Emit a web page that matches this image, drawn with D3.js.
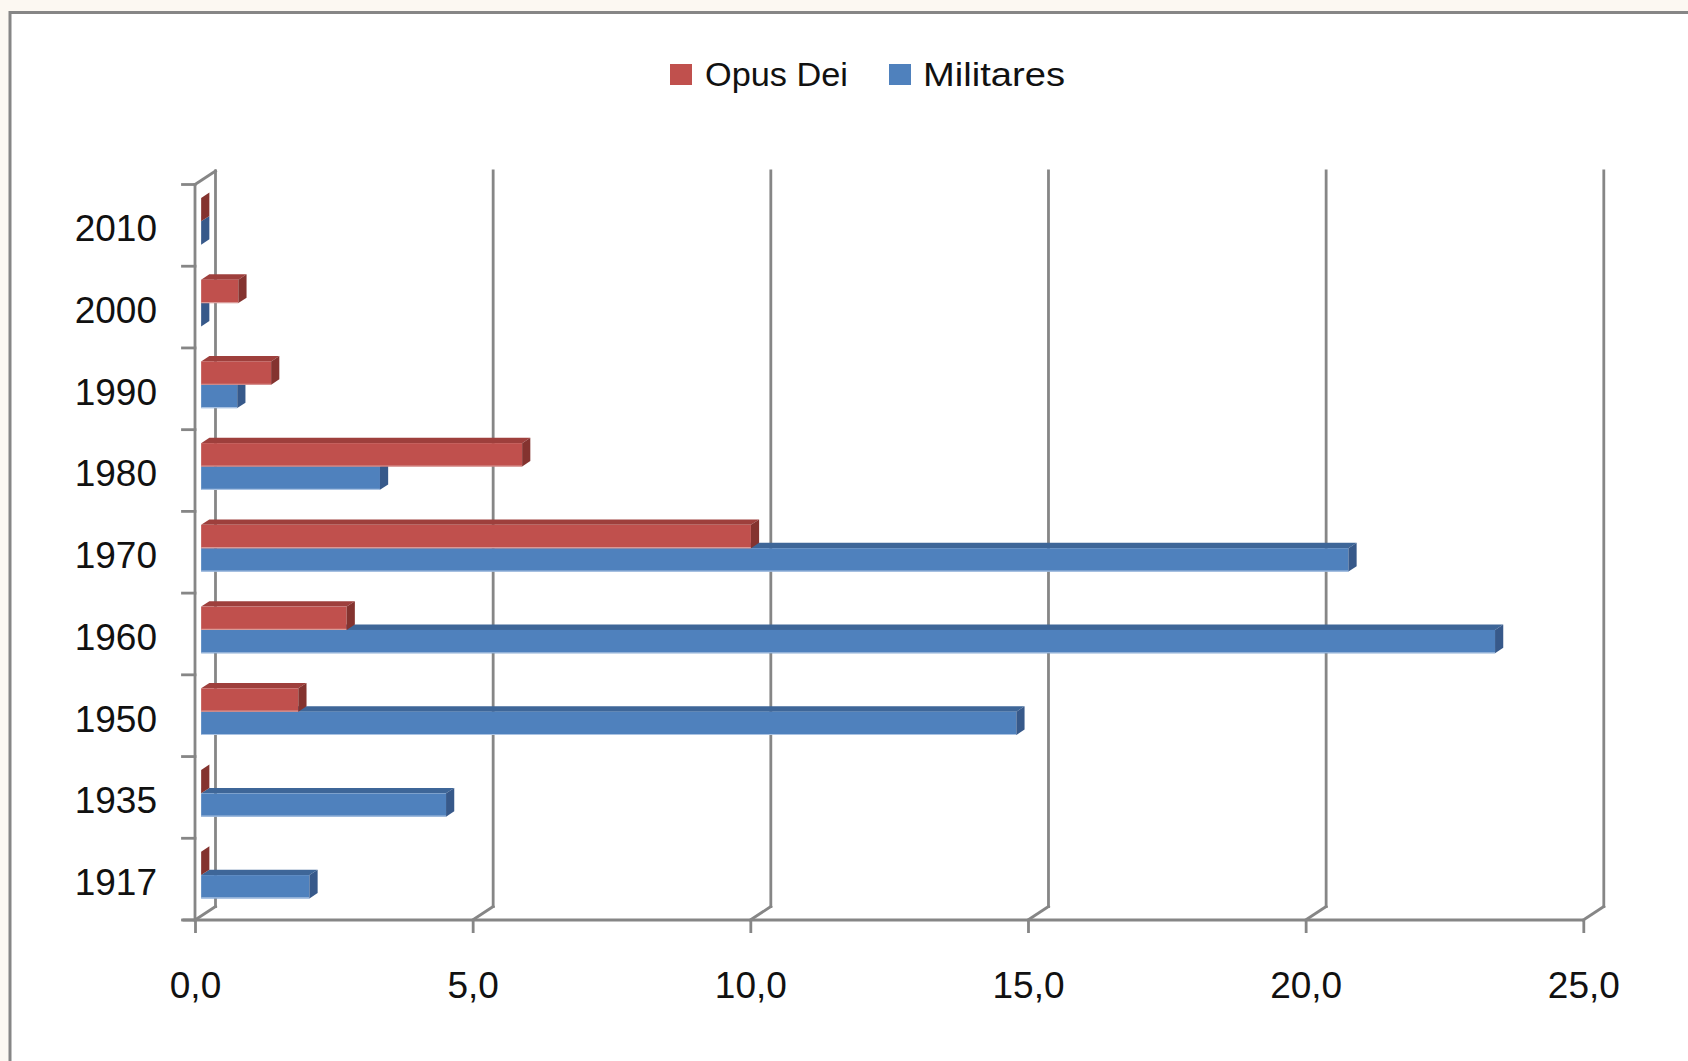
<!DOCTYPE html>
<html>
<head>
<meta charset="utf-8">
<script src="https://cdn.jsdelivr.net/npm/d3@7"></script>
<style>
  html, body { margin: 0; padding: 0; background: #fcf8f2; }
  svg { display: block; }
</style>
</head>
<body>
<svg id="chart" width="1688" height="1061"></svg>
<script>
// ---------- data ----------
const categories = ["1917", "1935", "1950", "1960", "1970", "1980", "1990", "2000", "2010"];
const seriesNames = ["Opus Dei", "Militares"];
const opusDei   = [0, 0, 1.75, 2.62, 9.9, 5.78, 1.26, 0.67, 0];
const militares = [1.95, 4.41, 14.68, 23.3, 20.66, 3.22, 0.65, 0, 0];
const xTickValues = [0, 5, 10, 15, 20, 25];

// ---------- styles / layout ----------
const palette = {
  "Opus Dei":  { front: "#C0504D", top: "#9E3F3C", side: "#84332F", edge: "#d99a98" },
  "Militares": { front: "#4F81BD", top: "#3E6698", side: "#37598A", edge: "#a9c2e2" }
};
const gridColor = "#868686";
const fontFamily = "'Liberation Sans', Arial, sans-serif";

const svg = d3.select("#chart");

// chart frame (extends past right and bottom edges)
svg.append("rect")
  .attr("x", 10).attr("y", 12.5)
  .attr("width", 1720).attr("height", 1100)
  .attr("fill", "#ffffff")
  .attr("stroke", "#868686").attr("stroke-width", 3);

// plot geometry (front plane) and depth offset
const x0 = 195, x1 = 1583.3, yTop = 184.5, yBot = 920;
const DX = 20.5, DY = -13.5;
const f0 = 0.3, f1 = 0.7; // bar depth position (fraction of total depth)

const x = d3.scaleLinear().domain([0, 25]).range([x0, x1]);
const y = d3.scaleBand().domain(categories.slice().reverse()).range([yTop, yBot]).paddingInner(0);
const ySub = d3.scaleBand().domain(seriesNames).range([0, y.bandwidth()]).paddingInner(0).paddingOuter(0.75);

const grid = svg.append("g")
  .attr("stroke", gridColor).attr("stroke-width", 2.8).attr("fill", "none")
  .attr("stroke-linecap", "square");

// back wall gridlines
xTickValues.forEach(t => {
  grid.append("line")
    .attr("x1", x(t) + DX).attr("y1", yTop + DY)
    .attr("x2", x(t) + DX).attr("y2", yBot + DY);
  // floor diagonals
  grid.append("line")
    .attr("x1", x(t)).attr("y1", yBot)
    .attr("x2", x(t) + DX).attr("y2", yBot + DY);
});
// left wall: front vertical and top diagonal
grid.append("line").attr("x1", x0).attr("y1", yTop).attr("x2", x0).attr("y2", yBot);
grid.append("line").attr("x1", x0).attr("y1", yTop).attr("x2", x0 + DX).attr("y2", yTop + DY);

// category boundary ticks on the left
const boundaries = categories.slice().reverse().map(c => y(c)).concat([yBot]);
boundaries.forEach(b => {
  grid.append("line").attr("x1", x0 - 12.5).attr("y1", b).attr("x2", x0).attr("y2", b);
});

// x axis (front floor edge)
const xAxis = d3.axisBottom(x)
  .tickValues(xTickValues)
  .tickSize(13)
  .tickSizeOuter(0)
  .tickFormat(d => d3.format(".1f")(d).replace(".", ","));
const gx = svg.append("g").attr("transform", `translate(0,${yBot})`).call(xAxis);
gx.select(".domain").attr("stroke", gridColor).attr("stroke-width", 2.8)
  .attr("d", `M${x0 - 12.5},0H${x1}`);
gx.selectAll(".tick line").attr("stroke", gridColor).attr("stroke-width", 2.8);
gx.selectAll(".tick text")
  .attr("y", 78).attr("dy", 0)
  .attr("fill", "#111")
  .style("font-family", fontFamily).style("font-size", "37px");

// y axis labels
const yAxis = d3.axisLeft(y).tickSize(0).tickPadding(38);
const gy = svg.append("g").attr("transform", `translate(${x0},0)`).call(yAxis);
gy.select(".domain").remove();
gy.selectAll(".tick text")
  .attr("dy", "0.43em")
  .attr("fill", "#111")
  .style("font-family", fontFamily).style("font-size", "37px");

// ---------- 3D bars ----------
const rows = categories.map((c, i) => ({ cat: c, "Opus Dei": opusDei[i], "Militares": militares[i] }));
const ox = f0 * DX, oy = f0 * DY;
const bx = (f1 - f0) * DX, by = (f1 - f0) * DY;
const bh = ySub.bandwidth();

const barsG = svg.append("g");
// draw from bottom category upward, lower series first
rows.forEach(r => {
  ["Militares", "Opus Dei"].forEach(s => {
    const v = r[s];
    const col = palette[s];
    const xl = x(0) + ox, xr = x(v) + ox;
    const yt = y(r.cat) + ySub(s) + oy, yb = yt + bh;
    const g = barsG.append("g");
    // top face
    g.append("polygon")
      .attr("points", [[xl, yt], [xr, yt], [xr + bx, yt + by], [xl + bx, yt + by]].map(p => p.join(",")).join(" "))
      .attr("fill", col.top);
    // front face
    g.append("rect")
      .attr("x", xl).attr("y", yt)
      .attr("width", Math.max(0, xr - xl)).attr("height", bh)
      .attr("fill", col.front);
    if (xr - xl > 1) {
      g.append("line")
        .attr("x1", xl).attr("x2", xr).attr("y1", yb - 0.5).attr("y2", yb - 0.5)
        .attr("stroke", col.edge).attr("stroke-width", 1.2);
    }
    // right side face
    g.append("polygon")
      .attr("points", [[xr, yt], [xr + bx, yt + by], [xr + bx, yb + by], [xr, yb]].map(p => p.join(",")).join(" "))
      .attr("fill", col.side);
  });
});

// ---------- legend ----------
const legend = svg.append("g").style("font-family", fontFamily).style("font-size", "34px");
const legendItems = [
  { name: "Opus Dei", sx: 670, tx: 705, len: 143 },
  { name: "Militares", sx: 889, tx: 923, len: 142 }
];
legendItems.forEach(it => {
  legend.append("rect")
    .attr("x", it.sx).attr("y", 64).attr("width", 22).attr("height", 21)
    .attr("fill", palette[it.name].front);
  legend.append("text")
    .attr("x", it.tx).attr("y", 85.5)
    .attr("fill", "#111")
    .attr("textLength", it.len)
    .attr("lengthAdjust", "spacingAndGlyphs")
    .text(it.name);
});
</script>
</body>
</html>
